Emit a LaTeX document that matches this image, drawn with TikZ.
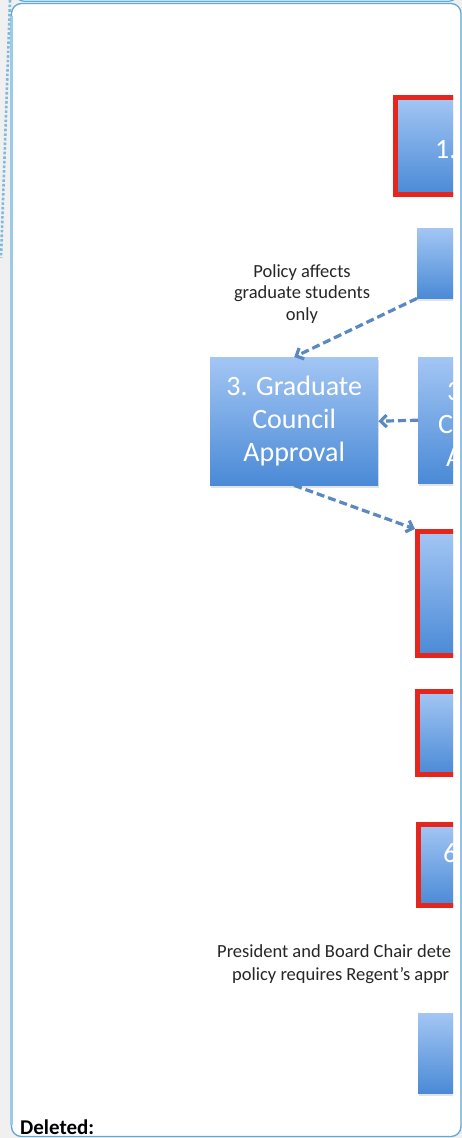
\documentclass[tikz,border=0pt]{standalone}
\usepackage{fontspec}
\setmainfont{Carlito}
\usetikzlibrary{arrows.meta,shadows}
\definecolor{boxtop}{HTML}{A3C6F4}
\definecolor{boxbot}{HTML}{4A8AD6}
\definecolor{redline}{HTML}{E5261C}
\definecolor{flowblue}{HTML}{5A88C0}
\definecolor{frameblue}{HTML}{5FA8D8}
\definecolor{framelight}{HTML}{9CCBEA}
\definecolor{sidegray}{HTML}{F0F0F0}
\begin{document}
\begin{tikzpicture}[x=1pt,y=-1pt,
    box/.style={rectangle, anchor=north west, inner sep=0pt, minimum width=120pt,
        top color=boxtop, bottom color=boxbot,
        drop shadow={opacity=0.22, shadow xshift=1pt, shadow yshift=-2.5pt}},
    redbox/.style={box, draw=redline, line width=5pt},
    boxtext/.style={text=white, font=\fontsize{28}{33}\selectfont},
    note/.style={text=black!85, font=\fontsize{18.5}{21.5}\selectfont},
    flow/.style={draw=flowblue, line width=3.2pt, dash pattern=on 8pt off 4pt,
        -{Straight Barb[length=6pt,width=12pt]}}]
    \useasboundingbox (0,0) rectangle (462,1138);
    \fill[sidegray] (0,0) rectangle (462,1138);

    % balloon frames
    \draw[frameblue, line width=1.2pt, fill=white, rounded corners=9pt] (15,-20) rectangle (458,1.2);
    \draw[frameblue, line width=1.3pt, fill=white, rounded corners=10pt] (11.5,3.5) rectangle (461,1136.5);
    \draw[framelight, line width=2.5pt] (11.5,16) -- (11.5,1125);
    \coordinate (tie1) at (10,0);
    \coordinate (tie2) at (1,258);
    \draw[frameblue!80, line width=2.6pt, dotted] (tie1) -- (tie2);

    \begin{scope}
    \clip (12,4) rectangle (453,1136);
    \node[redbox, minimum height=97pt] (step1) at (393,95) {};
    \node[box, minimum height=70pt] (step2) at (417,228) {};
    \node[box, minimum width=168pt, minimum height=128pt, boxtext, align=center] (step3g) at (210,357)
        {3. Graduate\\Council\\Approval};
    \node[box, minimum height=126pt] (step3c) at (418,357) {};
    \node[redbox, minimum height=124pt] (step4) at (415,529) {};
    \node[redbox, minimum height=83pt] (step5) at (415,689) {};
    \node[redbox, minimum height=81pt] (step6) at (416,822) {};
    \node[box, minimum height=80pt] (step7) at (418,1013) {};

    \node[boxtext, anchor=base west, inner sep=0pt] (lab1) at (435,158) {1.};
    \node[boxtext, anchor=base west, inner sep=0pt] (lab3a) at (447,400) {3};
    \node[boxtext, anchor=base west, inner sep=0pt] (lab3b) at (438,433) {C};
    \node[boxtext, anchor=base west, inner sep=0pt] (lab3c) at (446,466) {A};
    \node[boxtext, anchor=base west, inner sep=0pt] (lab6) at (443,862) {6};

    \node[note, align=center] (gradonly) at (302,294) {Policy affects\\graduate students\\only};
    \node[note, anchor=base west, inner sep=0pt] (chair1) at (217,957) {President and Board Chair dete};
    \node[note, anchor=base west, inner sep=0pt] (chair2) at (232,980) {policy requires Regent’s appr};

    \draw[flow] (step2.south west) -- (step3g.north);
    \draw[flow] (step3c.west) -- (step3g.east);
    \draw[flow] (step3g.south) -- (step4.north west);
    \end{scope}

    \node[anchor=base west, inner sep=0pt, font=\bfseries\fontsize{21}{24}\selectfont] (deleted) at (20,1134) {Deleted:};
\end{tikzpicture}
\end{document}
